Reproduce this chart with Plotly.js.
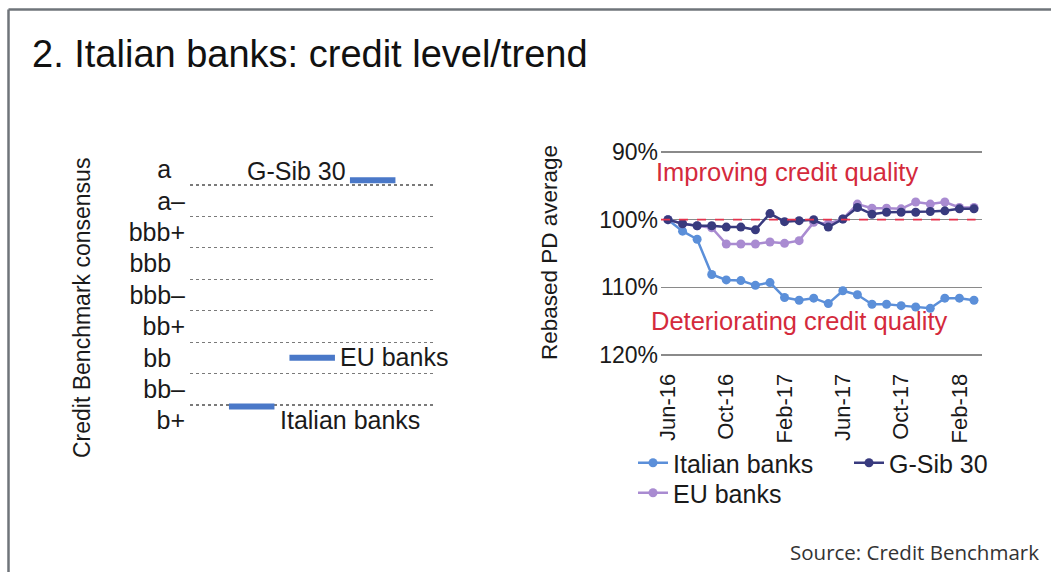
<!DOCTYPE html>
<html>
<head>
<meta charset="utf-8">
<script src="https://cdn.plot.ly/plotly-3.0.1.min.js"></script>
<style>html,body{margin:0;padding:0;background:#fff;overflow:hidden;}#chart{width:1051px;height:572px;}</style>
</head>
<body>
<div id="chart"></div>
<script>
// ---- Left panel data ----
var ratingLabels = ['b+', 'bb–', 'bb', 'bb+', 'bbb–', 'bbb', 'bbb+', 'a–', 'a'];
var levelBanks = ['Italian banks', 'EU banks', 'G-Sib 30'];
var levelValues = [0.45, 2.0, 7.65]; // position on the rating scale (b+ = 0 ... a = 8)

// ---- Right panel data ----
var months = ['Jun-16','Jul-16','Aug-16','Sep-16','Oct-16','Nov-16','Dec-16','Jan-17','Feb-17','Mar-17','Apr-17','May-17',
              'Jun-17','Jul-17','Aug-17','Sep-17','Oct-17','Nov-17','Dec-17','Jan-18','Feb-18','Mar-18'];
var italianBanks = [100.0, 101.7, 102.9, 108.1, 108.9, 109.0, 109.7, 109.3, 111.5, 111.9, 111.6, 112.4,
                    110.5, 111.1, 112.5, 112.5, 112.7, 112.9, 113.1, 111.6, 111.6, 111.9];
var gSib30 = [100.0, 100.6, 100.9, 100.9, 101.1, 101.1, 101.5, 99.1, 100.3, 100.15, 100.0, 101.1,
              99.9, 98.2, 99.2, 98.9, 98.9, 98.9, 98.8, 98.7, 98.4, 98.4];
var euBanks = [100.0, 100.6, 100.9, 101.2, 103.6, 103.6, 103.6, 103.3, 103.5, 103.1, 100.4, 100.6,
               99.9, 97.7, 98.3, 98.3, 98.4, 97.4, 97.7, 97.4, 98.2, 98.2];
var yTicks = [90, 100, 110, 120];
var baseline = 100;

var FONT = 'Liberation Sans, Arial, sans-serif';
var W = 1051, H = 572;
function px(x) { return x / W; }
function py(y) { return 1 - y / H; }

var ratingIdx = ratingLabels.map(function (l, i) { return i; });
var ratingText = ratingLabels.map(function (l) {
  var last = l.charAt(l.length - 1);
  return (last === '+' || last === '–') ? l : l + '\u2007';
});
var bandEdges = ratingLabels.map(function (l, i) { return i - 0.5; }).concat([ratingLabels.length - 0.5]);

var monthTicks = months.filter(function (m, i) { return i % 4 === 0; });
var yTickText = yTicks.map(function (v) { return v + '%'; });

var traces = [
  {
    type: 'scatter', mode: 'markers', x: levelBanks, y: levelValues,
    xaxis: 'x', yaxis: 'y', showlegend: false, cliponaxis: false, hoverinfo: 'x+y',
    marker: { symbol: 'line-ew', size: 32.5, color: '#4a78c8', line: { color: '#4a78c8', width: 6 } }
  },
  {
    type: 'scatter', mode: 'lines+markers', name: 'Italian banks', x: months, y: italianBanks,
    xaxis: 'x2', yaxis: 'y2', legend: 'legend',
    line: { color: '#5b8fd9', width: 2.5 }, marker: { color: '#5b8fd9', size: 9 }
  },
  {
    type: 'scatter', mode: 'lines+markers', name: 'EU banks', x: months, y: euBanks,
    xaxis: 'x2', yaxis: 'y2', legend: 'legend2',
    line: { color: '#a98bd1', width: 2.5 }, marker: { color: '#a98bd1', size: 9 }
  },
  {
    type: 'scatter', mode: 'lines+markers', name: 'G-Sib 30', x: months, y: gSib30,
    xaxis: 'x2', yaxis: 'y2', legend: 'legend',
    line: { color: '#383a7e', width: 2.5 }, marker: { color: '#383a7e', size: 9 }
  }
];

// label offsets for the left-panel level markers
var labelStyle = [
  { xanchor: 'left', xshift: 26, yshift: -13 },
  { xanchor: 'left', xshift: 26, yshift: 1 },
  { xanchor: 'right', xshift: -25, yshift: 9 }
];
var annotations = levelBanks.map(function (b, i) {
  return {
    xref: 'x', yref: 'y', x: b, y: levelValues[i], text: b, showarrow: false,
    xanchor: labelStyle[i].xanchor, yanchor: 'middle',
    xshift: labelStyle[i].xshift, yshift: labelStyle[i].yshift,
    font: { family: FONT, size: 25, color: '#1a1a1a' }
  };
});
annotations.push(
  { xref: 'paper', yref: 'paper', x: px(82), y: py(308), text: 'Credit Benchmark consensus', textangle: -90,
    showarrow: false, xanchor: 'center', yanchor: 'middle', font: { family: FONT, size: 23, color: '#1a1a1a' } },
  { xref: 'paper', yref: 'paper', x: px(549), y: py(253), text: 'Rebased PD average', textangle: -90,
    showarrow: false, xanchor: 'center', yanchor: 'middle', font: { family: FONT, size: 22.5, color: '#1a1a1a' } },
  { xref: 'paper', yref: 'paper', x: px(654), y: py(172), text: 'Improving credit quality',
    showarrow: false, xanchor: 'left', yanchor: 'middle', font: { family: FONT, size: 25.5, color: '#d42a3c' } },
  { xref: 'paper', yref: 'paper', x: px(649), y: py(321), text: 'Deteriorating credit quality',
    showarrow: false, xanchor: 'left', yanchor: 'middle', font: { family: FONT, size: 25.5, color: '#d42a3c' } },
  { xref: 'paper', yref: 'paper', x: px(1041), y: py(552), text: 'Source: Credit Benchmark',
    showarrow: false, xanchor: 'right', yanchor: 'middle', font: { family: 'Open Sans, sans-serif', size: 20.5, color: '#333' } }
);

var legendFont = { family: FONT, size: 25, color: '#1a1a1a' };

var layout = {
  width: W, height: H,
  margin: { l: 0, r: 0, t: 0, b: 0, pad: 0, autoexpand: false },
  paper_bgcolor: '#ffffff', plot_bgcolor: 'rgba(0,0,0,0)',
  font: { family: FONT, color: '#1a1a1a' },
  title: {
    text: '2. Italian banks: credit level/trend', x: px(32), xanchor: 'left', y: py(54), yanchor: 'middle',
    font: { family: FONT, size: 38, color: '#111' }
  },
  xaxis: {
    domain: [px(190), px(435)], type: 'category', range: [-1.02, 3.03], automargin: false,
    showgrid: false, zeroline: false, showline: false, showticklabels: false, ticks: '', fixedrange: true
  },
  yaxis: {
    domain: [py(437), py(153)], range: [-0.52, 8.52], zeroline: false, showline: false, automargin: false,
    tickmode: 'array', tickvals: ratingIdx, ticktext: ratingText, ticks: '', showgrid: false,
    tickfont: { family: FONT, size: 25, color: '#1a1a1a' }, ticklabelstandoff: 4,
    minor: { tickmode: 'array', tickvals: bandEdges, showgrid: true, griddash: 'dot', gridcolor: '#7a7a7a', gridwidth: 1.2, ticks: '' }
  },
  xaxis2: {
    domain: [px(661), px(982)], type: 'category', range: [-0.48, 21.55], anchor: 'y2', automargin: false,
    showgrid: false, zeroline: false, showline: false, ticks: '',
    tickmode: 'array', tickvals: monthTicks, ticktext: monthTicks, tickangle: -90,
    tickfont: { family: FONT, size: 22, color: '#1a1a1a' }, ticklabelstandoff: 12
  },
  yaxis2: {
    domain: [py(356.4), py(150.6)], range: [120.2, 89.8], anchor: 'x2', automargin: false,
    tickmode: 'array', tickvals: yTicks, ticktext: yTickText, ticks: '',
    showgrid: true, gridcolor: '#8a8a8a', gridwidth: 1.5, zeroline: false, showline: false,
    tickfont: { family: FONT, size: 23, color: '#1a1a1a' }, ticklabelstandoff: 2
  },
  shapes: [
    { type: 'line', xref: 'x2 domain', yref: 'y2', x0: 0, x1: 0.98, y0: baseline, y1: baseline,
      line: { color: '#e5334d', width: 1.8, dash: 'dash' }, layer: 'above' },
    { type: 'line', xref: 'paper', yref: 'paper', x0: px(8.5), x1: px(8.5), y0: 0, y1: py(9.5),
      line: { color: '#6f747a', width: 2.5 } },
    { type: 'line', xref: 'paper', yref: 'paper', x0: px(8.5), x1: 1, y0: py(9.5), y1: py(9.5),
      line: { color: '#6f747a', width: 2.5 } }
  ],
  annotations: annotations,
  showlegend: true,
  legend: {
    orientation: 'h', x: px(633), xanchor: 'left', y: py(440), yanchor: 'top',
    font: legendFont, bgcolor: 'rgba(0,0,0,0)', entrywidth: 171, tracegroupgap: 0, itemwidth: 30
  },
  legend2: {
    orientation: 'h', x: px(633), xanchor: 'left', y: py(470), yanchor: 'top',
    font: legendFont, bgcolor: 'rgba(0,0,0,0)', tracegroupgap: 0, itemwidth: 30
  }
};

Plotly.newPlot('chart', traces, layout, { displayModeBar: false, staticPlot: true });
</script>
</body>
</html>
